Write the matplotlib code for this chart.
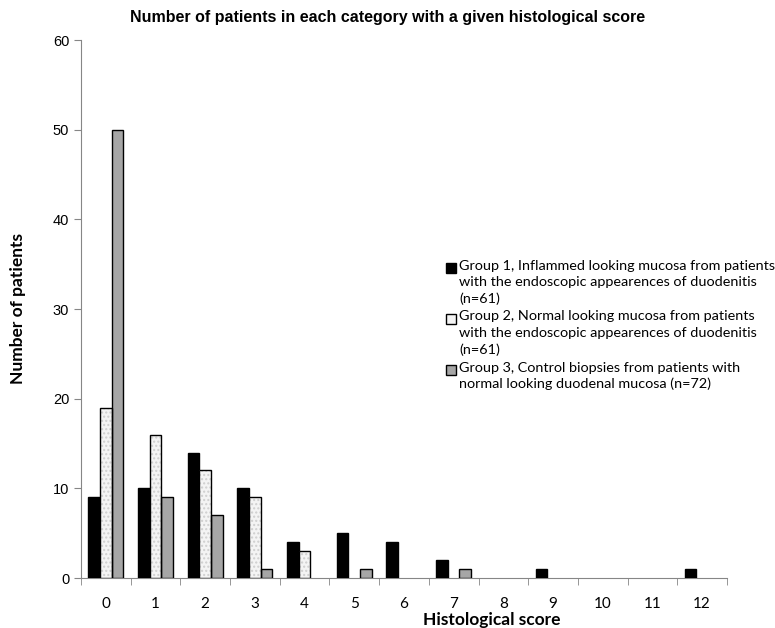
import matplotlib.pyplot as plt
import numpy as np
from matplotlib.patches import Rectangle

scores = ["0", "1", "2", "3", "4", "5", "6", "7", "8", "9", "10", "11", "12"]
group1 = [9, 10, 14, 10, 4, 5, 4, 2, 0, 1, 0, 0, 1]
group2 = [19, 16, 12, 9, 3, 0, 0, 0, 0, 0, 0, 0, 0]
group3 = [50, 9, 7, 1, 0, 1, 0, 1, 0, 0, 0, 0, 0]
labels = [
    "Group 1, Inflammed looking mucosa from patients\nwith the endoscopic appearences of duodenitis\n(n=61)",
    "Group 2, Normal looking mucosa from patients\nwith the endoscopic appearences of duodenitis\n(n=61)",
    "Group 3, Control biopsies from patients with\nnormal looking duodenal mucosa (n=72)",
]
colors = ["black", "#f4f4f4", "#a6a6a6"]

narrow = ["Liberation Sans Narrow", "Liberation Sans", "DejaVu Sans"]
body = ["Lato", "DejaVu Sans"]

W, H = 775, 628
fig = plt.figure(figsize=(W / 100, H / 100), dpi=100)
ax = fig.add_axes([0.1045, 0.0796, 0.8335, 0.8564])

x = np.arange(len(scores))
w = 0.235


def nz(vals):
    # skip empty bins so no outline is drawn on the axis
    v = np.array(vals)
    return x[v > 0], v[v > 0]


xs, v = nz(group1)
ax.bar(xs - w, v, w, color=colors[0], edgecolor="black", linewidth=1.0, zorder=3)
# speckled white bars: light hatch then black outline on top
xs, v = nz(group2)
ax.bar(xs, v, w, color=colors[1], edgecolor="#cfcfcf", hatch="....", linewidth=0, zorder=3)
ax.bar(xs, v, w, fill=False, edgecolor="black", linewidth=1.0, zorder=4)
xs, v = nz(group3)
ax.bar(xs + w, v, w, color=colors[2], edgecolor="black", linewidth=1.0, zorder=3)

ax.set_xlim(-0.5, len(scores) - 0.5)
ax.set_ylim(0, 60)
ax.set_yticks(range(0, 61, 10))
ax.set_xticks(x)
ax.set_xticklabels(scores)
ax.set_xticks(np.arange(-0.5, len(scores), 1), minor=True)
ax.tick_params(axis="x", which="major", length=0, pad=14, labelsize=11)
ax.tick_params(axis="x", which="minor", length=5, color="#868686")
ax.tick_params(axis="y", length=5, color="#868686", labelsize=10.5)
for t in ax.get_xticklabels():
    t.set_family(body)
for t in ax.get_yticklabels():
    t.set_family(narrow)

for side in ("top", "right"):
    ax.spines[side].set_visible(False)
for side in ("left", "bottom"):
    ax.spines[side].set_color("#868686")

fig.text(0.5, 0.972, "Number of patients in each category with a given histological score",
         ha="center", va="center", fontsize=11.5, fontweight="bold", family=narrow)
fig.text(0.635, 0.013, "Histological score", ha="center", va="center",
         fontsize=12.5, fontweight="bold", family=body)
fig.text(0.023, 0.508, "Number of patients", ha="center", va="center", rotation=90,
         fontsize=12.5, fontweight="bold", family=body)

# legend drawn by hand: square aligned with the first line of each entry
entry_y = [268, 319, 370]
for label, color, yc in zip(labels, colors, entry_y):
    fig.add_artist(Rectangle((446 / W, 1 - (yc + 5) / H), 10 / W, 10 / H,
                             transform=fig.transFigure, facecolor=color,
                             edgecolor="black", linewidth=1.0))
    fig.text(459 / W, 1 - (yc - 8.5) / H, label, ha="left", va="top",
             fontsize=10.4, family=body, linespacing=1.42)

fig.savefig("out.png", dpi=100)
